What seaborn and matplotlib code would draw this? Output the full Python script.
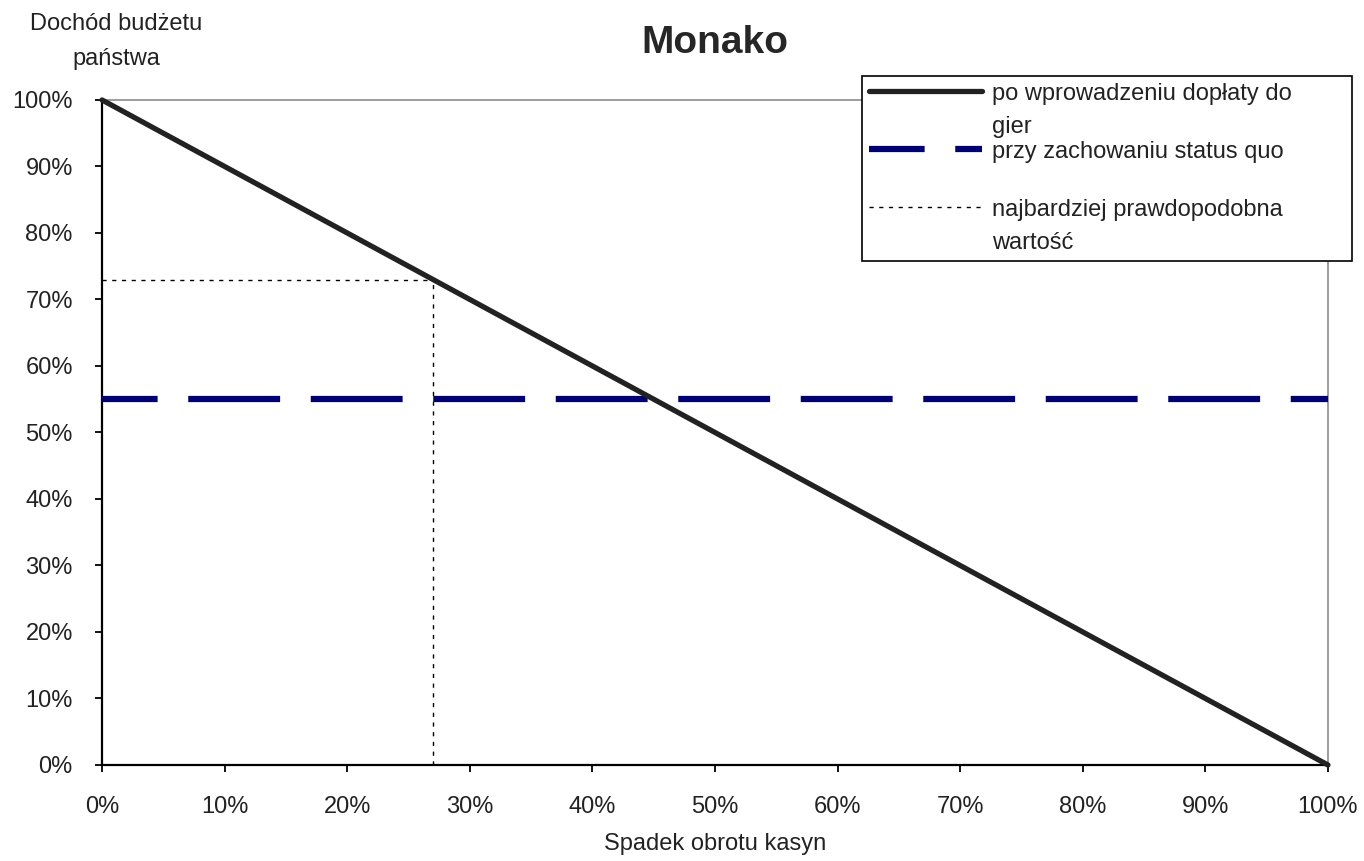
import numpy as np
import pandas as pd
import matplotlib
matplotlib.use("Agg")
import matplotlib.pyplot as plt
from matplotlib.ticker import PercentFormatter
import seaborn as sns

# dane (w %)
spadek_obrotu = [0, 100]
dochod_po_doplacie = [100, 0]
dochod_status_quo = [55, 55]
prawdop_spadek = 27
prawdop_dochod = 73
ticks = list(range(0, 101, 10))

etykiety = ["po wprowadzeniu dopłaty do\ngier",
            "przy zachowaniu status quo\n",
            "najbardziej prawdopodobna\nwartość"]

sns.set_style("ticks")
plt.rcParams['font.family'] = ['Liberation Sans', 'DejaVu Sans']

df = pd.DataFrame({'spadek': spadek_obrotu,
                   'po': dochod_po_doplacie,
                   'sq': dochod_status_quo})

fig = plt.figure(figsize=(13.64, 8.61), dpi=100)
ax = fig.add_axes([0.0748, 0.1115, 0.8988, 0.7724])

sns.lineplot(data=df, x='spadek', y='po', ax=ax, color='#222222', linewidth=3.8,
             label=etykiety[0], clip_on=False, zorder=4)
sns.lineplot(data=df, x='spadek', y='sq', ax=ax, color='#000070', linewidth=4.5,
             label=etykiety[1], dashes=False, zorder=3)
ax.lines[1].set_linestyle((5.8, (14.7, 4.9)))

# linie pomocnicze: najbardziej prawdopodobna wartość
ax.plot([0, prawdop_spadek], [prawdop_dochod, prawdop_dochod], color='black',
        linewidth=1, linestyle=(0, (3, 4)), label=etykiety[2])
ax.plot([prawdop_spadek, prawdop_spadek], [0, prawdop_dochod], color='black',
        linewidth=1, linestyle=(0, (3, 4)))

ax.set_xlim(0, 100)
ax.set_ylim(0, 100)
ax.set_xticks(ticks)
ax.set_yticks(ticks)
ax.xaxis.set_major_formatter(PercentFormatter(decimals=0))
ax.yaxis.set_major_formatter(PercentFormatter(decimals=0))
ax.tick_params(axis='both', labelsize=17, length=5, width=1.3, color='black',
               labelcolor='#222222')
ax.tick_params(axis='x', pad=17)
ax.tick_params(axis='y', pad=16)

for s in ['top', 'right']:
    ax.spines[s].set_color('#8c8c8c')
    ax.spines[s].set_linewidth(1.2)
for s in ['left', 'bottom']:
    ax.spines[s].set_color('black')
    ax.spines[s].set_linewidth(1.6)

ax.set_xlabel('Spadek obrotu kasyn', fontsize=17, color='#222222', labelpad=11)
ax.set_ylabel('')
ax.set_title('Monako', fontsize=28, fontweight='bold', pad=34)

fig.text(0.085, 0.972, 'Dochód budżetu', fontsize=17, ha='center', va='center', color='#222222')
fig.text(0.085, 0.932, 'państwa', fontsize=17, ha='center', va='center', color='#222222')

leg = ax.legend(loc='upper left', bbox_to_anchor=(0.632, 0.706, 0.359, 0.206),
                bbox_transform=fig.transFigure, mode='expand', fontsize=17,
                frameon=True, fancybox=False, framealpha=1, edgecolor='black',
                handlelength=4.8, handletextpad=0.4, labelspacing=0.13,
                borderpad=0.3, borderaxespad=0)
leg.get_frame().set_linewidth(1.2)
for t in leg.get_texts():
    t.set_linespacing(1.65)
    t.set_color('#222222')
for col in leg._legend_handle_box.get_children():
    for item in col.get_children():
        item.align = 'top'

fig.savefig('out.png', dpi=100)
